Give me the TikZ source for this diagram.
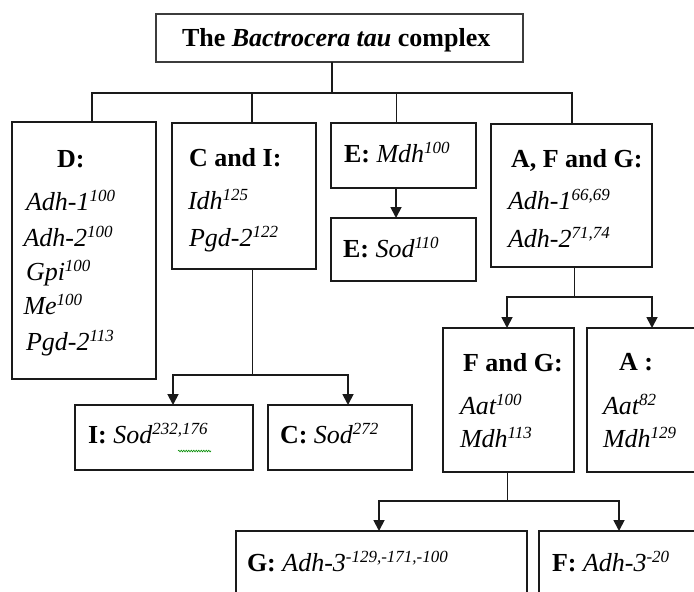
\documentclass[tikz,border=0pt]{standalone}
\usepackage{fontspec}
\setmainfont{Liberation Serif}
\usetikzlibrary{arrows.meta,decorations.pathmorphing}
\definecolor{ink}{HTML}{1A1A1A}
\newcommand\upx[1]{\raisebox{8.5pt}{\fontsize{17}{17}\selectfont #1}}
\begin{document}
\begin{tikzpicture}[x=1pt,y=-1pt,
  box/.style={draw=ink,line width=2pt,inner sep=0pt,outer sep=0pt},
  txt/.style={anchor=base west,inner sep=0pt,outer sep=0pt,text=black,font=\fontsize{26}{31}\selectfont},
  wire/.style={draw=ink,line width=1.8pt},
  thinwire/.style={draw=ink,line width=1pt},
  twoarr/.style={{Triangle[length=11pt,width=11pt]}-{Triangle[length=11pt,width=11pt]}},
  onearr/.style={-{Triangle[length=11pt,width=11pt]}}
]
\useasboundingbox (0,0) rectangle (694,592);
\clip (0,0) rectangle (694,592);
\fill[white] (0,0) rectangle (694,592);

% boxes
\node[box,line width=1.2pt,draw=ink!85,minimum width=367pt,minimum height=48pt] (title) at (339.5,38) {};
\node[box,minimum width=144pt,minimum height=257pt] (D)   at (84,250.5) {};
\node[box,minimum width=144pt,minimum height=146pt] (CI)  at (244,196) {};
\node[box,minimum width=145pt,minimum height=65pt]  (E1)  at (403.5,155.5) {};
\node[box,minimum width=145pt,minimum height=63pt]  (E2)  at (403.5,249.5) {};
\node[box,minimum width=161pt,minimum height=143pt] (AFG) at (571.5,195.5) {};
\node[box,minimum width=131pt,minimum height=144pt] (FG)  at (508.5,400) {};
\node[box,minimum width=133pt,minimum height=144pt] (A)   at (653.5,400) {};
\node[box,minimum width=178pt,minimum height=65pt]  (I)   at (164,437.5) {};
\node[box,minimum width=144pt,minimum height=65pt]  (C)   at (340,437.5) {};
\node[box,minimum width=291pt,minimum height=109pt] (G)   at (381.5,585.5) {};
\node[box,minimum width=181pt,minimum height=109pt] (F)   at (629.5,585.5) {};

% top tree
\coordinate (b0) at (332,93);
\coordinate (bL) at (92,93);
\coordinate (b2) at (252,93);
\coordinate (b3) at (396,93);
\coordinate (bR) at (572,93);
\draw[wire] (title.south -| b0) -- (b0);
\draw[wire] (bL |- D.north) -- (bL) -- (bR) -- (bR |- AFG.north);
\draw[wire] (b2) -- (b2 |- CI.north);
\draw[thinwire] (b3) -- (b3 |- E1.north);
\draw[wire,onearr] (E1.south -| b3) -- (E2.north -| b3);

% C and I branch
\coordinate (c0) at (252,375);
\coordinate (cL) at (173,375);
\coordinate (cR) at (348,375);
\draw[thinwire] (CI.south -| c0) -- (c0);
\draw[wire,twoarr] (cL |- I.north) -- (cL) -- (cR) -- (cR |- C.north);

% A, F and G branch
\coordinate (a0) at (574,297);
\coordinate (aL) at (507,297);
\coordinate (aR) at (652,297);
\draw[thinwire] (AFG.south -| a0) -- (a0);
\draw[wire,twoarr] (aL |- FG.north) -- (aL) -- (aR) -- (aR |- A.north);

% F and G branch
\coordinate (f0) at (507,501);
\coordinate (fL) at (379,501);
\coordinate (fR) at (619,501);
\draw[thinwire] (FG.south -| f0) -- (f0);
\draw[wire,twoarr] (fL |- G.north) -- (fL) -- (fR) -- (fR |- F.north);

% texts
\node[txt] (tT) at (182,46) {\textbf{The \textit{Bactrocera tau} complex}};

\node[txt] (tD)  at (57,167) {\textbf{D:}};
\node[txt] (tD1) at (26,210) {\textit{Adh-1\upx{100}}};
\node[txt] (tD2) at (23.5,246) {\textit{Adh-2\upx{100}}};
\node[txt] (tD3) at (26,280) {\textit{Gpi\upx{100}}};
\node[txt] (tD4) at (23.5,314) {\textit{Me\upx{100}}};
\node[txt] (tD5) at (26,350) {\textit{Pgd-2\upx{113}}};

\node[txt] (tC)  at (189,166) {\textbf{C and I:}};
\node[txt] (tC1) at (188,209) {\textit{Idh\upx{125}}};
\node[txt] (tC2) at (189,246) {\textit{Pgd-2\upx{122}}};

\node[txt] (tE1) at (344,162) {\textbf{E:} \textit{Mdh\upx{100}}};
\node[txt] (tE2) at (343,257) {\textbf{E:} \textit{Sod\upx{110}}};

\node[txt] (tA)  at (511,167) {\textbf{A, F and G:}};
\node[txt] (tA1) at (508,209) {\textit{Adh-1\upx{66,69}}};
\node[txt] (tA2) at (508,247) {\textit{Adh-2\upx{71,74}}};

\node[txt] (tF)  at (463,371) {\textbf{F and G:}};
\node[txt] (tF1) at (460,414) {\textit{Aat\upx{100}}};
\node[txt] (tF2) at (460,447) {\textit{Mdh\upx{113}}};

\node[txt] (tAa)  at (619,370) {\textbf{A :}};
\node[txt] (tAa1) at (603,414) {\textit{Aat\upx{82}}};
\node[txt] (tAa2) at (603,447) {\textit{Mdh\upx{129}}};

\node[txt] (tI) at (88,443) {\textbf{I:} \textit{Sod\upx{232,176}}};
\node[txt] (tCc) at (280,443) {\textbf{C:} \textit{Sod\upx{272}}};

\node[txt] (tG) at (247,571) {\textbf{G:} \textit{Adh-3\upx{-129,-171,-100}}};
\node[txt] (tFf) at (552,571) {\textbf{F:} \textit{Adh-3\upx{-20}}};

% spell-check squiggle
\draw[green!55!black,line width=0.6pt,decorate,decoration={snake,amplitude=0.8pt,segment length=2.5pt}] (178,451) -- (211,451);
\end{tikzpicture}
\end{document}
